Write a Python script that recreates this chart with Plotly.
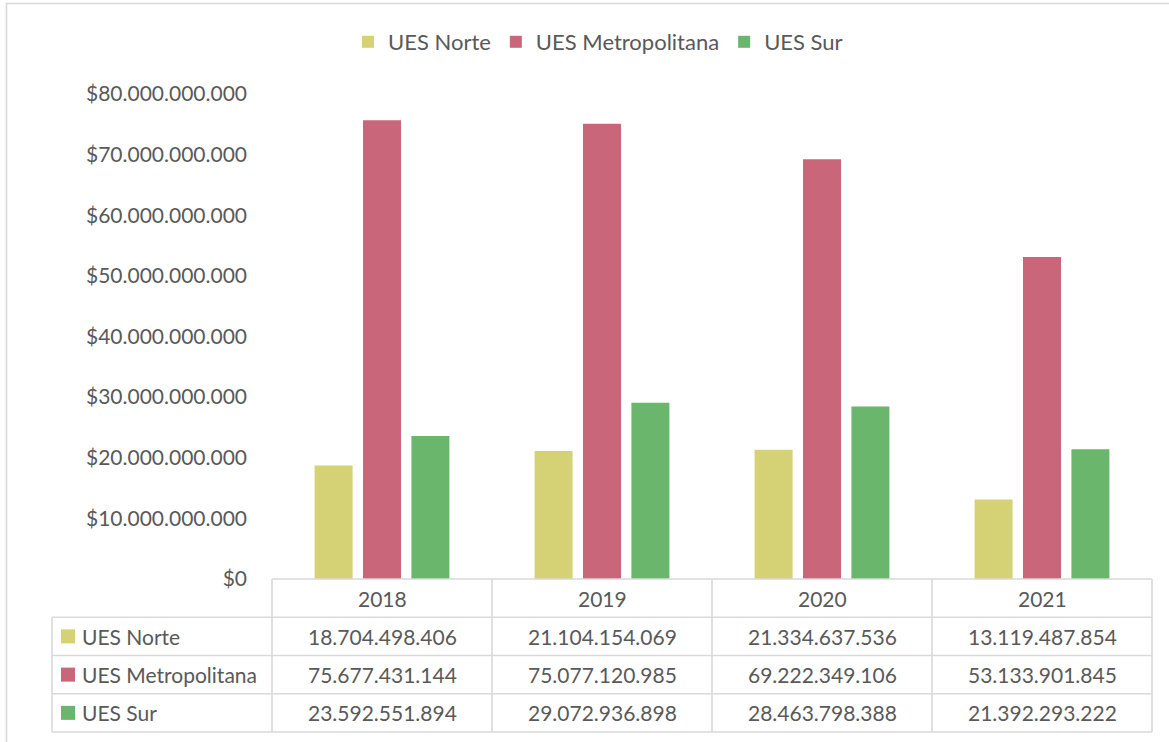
import plotly.graph_objects as go

years = ["2018", "2019", "2020", "2021"]
series_names = ["UES Norte", "UES Metropolitana", "UES Sur"]
ues_norte = [18704498406, 21104154069, 21334637536, 13119487854]
ues_metropolitana = [75677431144, 75077120985, 69222349106, 53133901845]
ues_sur = [23592551894, 29072936898, 28463798388, 21392293222]
colors = ["#D5D275", "#C9667A", "#6BB66D"]

series_values = [ues_norte, ues_metropolitana, ues_sur]

FONT = "Lato"
TXT = "#595959"
GRID = "#D9D9D9"
FS = 21

W, H = 1169, 742
ML, MR, MT, MB = 272, 17, 94, 163
plot_w = W - ML - MR
plot_h = H - MT - MB


def px_x(px):
    return (px - ML) / plot_w


def px_y(py):
    return (H - MB - py) / plot_h


fig = go.Figure()
for name, vals, col in zip(series_names, series_values, colors):
    fig.add_trace(go.Bar(x=years, y=vals, name=name, marker=dict(color=col, line=dict(width=0))))

n = len(years)
rh = 38.25 / plot_h  # row height in paper units
shapes = []
annotations = []
lc = dict(color=GRID, width=1.6)

# horizontal lines
shapes.append(dict(type="line", xref="paper", yref="paper", x0=0, x1=1, y0=0, y1=0, line=lc))
for r in range(1, len(series_names) + 2):
    shapes.append(dict(type="line", xref="paper", yref="paper", x0=-1 / n, x1=1, y0=-r * rh, y1=-r * rh, line=lc))
# vertical lines
for c in range(n + 1):
    shapes.append(dict(type="line", xref="paper", yref="paper", x0=c / n, x1=c / n, y0=0, y1=-(len(series_names) + 1) * rh, line=lc))
shapes.append(dict(type="line", xref="paper", yref="paper", x0=-1 / n, x1=-1 / n, y0=-rh, y1=-(len(series_names) + 1) * rh, line=lc))

# header years
for i, yr in enumerate(years):
    annotations.append(dict(xref="paper", yref="paper", x=(i + 0.5) / n, y=-0.5 * rh, text=yr,
                            showarrow=False, xanchor="center", yanchor="middle",
                            font=dict(family=FONT, size=FS, color=TXT)))

sq_h = 14 / plot_h
for r, (name, vals, col) in enumerate(zip(series_names, series_values, colors)):
    yc = -(r + 1.5) * rh
    shapes.append(dict(type="rect", xref="paper", yref="paper", x0=px_x(61), x1=px_x(75),
                       y0=yc - sq_h / 2, y1=yc + sq_h / 2, fillcolor=col, line=dict(width=0)))
    annotations.append(dict(xref="paper", yref="paper", x=px_x(80), y=yc, text=name,
                            showarrow=False, xanchor="left", yanchor="middle",
                            font=dict(family=FONT, size=FS, color=TXT)))
    for i, v in enumerate(vals):
        annotations.append(dict(xref="paper", yref="paper", x=(i + 0.5) / n, y=yc,
                                text=f"{v:,}".replace(",", "."),
                                showarrow=False, xanchor="center", yanchor="middle",
                                font=dict(family=FONT, size=FS, color=TXT)))

# outer chart border
shapes.append(dict(type="rect", xref="paper", yref="paper", x0=px_x(6.5), x1=px_x(1185),
                   y0=px_y(760), y1=px_y(3.5), line=dict(color=GRID, width=1.6), fillcolor="rgba(0,0,0,0)"))

fig.update_layout(
    width=W, height=H,
    margin=dict(l=ML, r=MR, t=MT, b=MB, autoexpand=False),
    paper_bgcolor="white", plot_bgcolor="white",
    separators=",.",
    font=dict(family=FONT, size=FS, color=TXT),
    barmode="group", bargap=0.34, bargroupgap=0.215,
    showlegend=True,
    legend=dict(orientation="h", x=px_x(598), xanchor="center", y=px_y(42), yanchor="middle",
                font=dict(family=FONT, size=22, color=TXT), itemwidth=30, tracegroupgap=0,
                bgcolor="rgba(0,0,0,0)"),
    xaxis=dict(type="category", showticklabels=False, showline=False, showgrid=False, ticks="",
               zeroline=False),
    yaxis=dict(range=[0, 80e9], dtick=10e9, tick0=0, tickprefix="$", tickformat=",d",
               showgrid=False, zeroline=False, showline=False, ticks="", ticklabelstandoff=24,
               tickfont=dict(family=FONT, size=FS, color=TXT)),
    shapes=shapes,
    annotations=annotations,
)

fig.write_html("out.html", config={"displayModeBar": False},
               post_script="document.body.style.margin='0';document.body.style.overflow='hidden';")
